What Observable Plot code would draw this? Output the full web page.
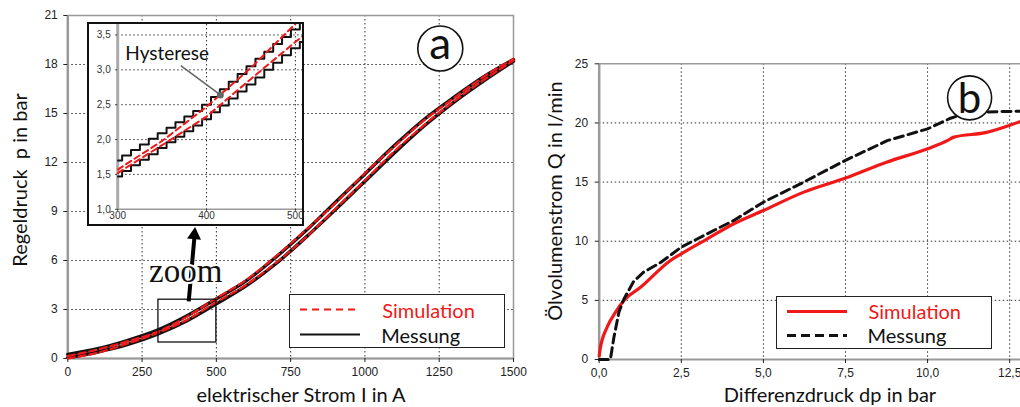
<!DOCTYPE html>
<html><head><meta charset="utf-8">
<script src="https://cdn.jsdelivr.net/npm/d3@7"></script>
<script src="https://cdn.jsdelivr.net/npm/@observablehq/plot@0.6"></script>
<style>
body{margin:0;background:#fff;}
#wrap{position:relative;width:1020px;height:407px;overflow:hidden;background:#fff;font-family:Lato,"Open Sans",sans-serif;}
#wrap svg{position:absolute;overflow:visible;}
.ttl{position:absolute;font-family:Lato,"Open Sans",sans-serif;font-size:20px;color:#111;white-space:pre;}
.rot{transform:translate(-50%,-50%) rotate(-90deg);}
.hx{transform:translate(-50%,-50%);}
.leg{position:absolute;border:1.5px solid #222;background:#fff;box-sizing:border-box;}
.leg span{position:absolute;font-size:20px;line-height:20px;transform:translateY(-50%);white-space:pre;}
.leg svg{position:absolute;left:0;top:0;}
</style></head>
<body><div id="wrap"></div>
<script>
// ---------- Panel a: Regeldruck vs. Strom ----------
const I_main   = [0,100,200,300,400,500,600,700,800,900,1000,1100,1200,1300,1400,1500];
const pMessAuf = [0.25,0.6,1.1,1.72,2.6,3.65,4.75,6.2,7.8,9.55,11.3,13.05,14.65,16.0,17.25,18.3];
const pMessAb  = [0.05,0.4,0.85,1.48,2.3,3.35,4.45,5.8,7.4,9.1,10.85,12.6,14.25,15.7,17.0,18.2];
const pSimAuf  = [0.15,0.55,1.05,1.62,2.55,3.7,4.8,6.25,7.85,9.5,11.35,13.0,14.6,15.95,17.25,18.35];
const pSimAb   = [0.0,0.35,0.9,1.55,2.35,3.45,4.5,5.85,7.4,9.15,10.9,12.7,14.3,15.75,17.05,18.25];
const xTicksA = [0,250,500,750,1000,1250,1500];
const yTicksA = [0,3,6,9,12,15,18,21];

// ---------- Inset (Zoom 300..500 A) ----------
const I_inset = [300,310,320,330,340,350,360,370,380,390,400,410,420,430,440,450,460,470,480,490,500,510];
const pInsAuf = [1.70,1.77,1.85,1.93,2.01,2.09,2.17,2.25,2.33,2.41,2.50,2.61,2.72,2.83,2.94,3.05,3.16,3.26,3.37,3.47,3.58,3.68];
const pInsAb  = [1.47,1.55,1.63,1.71,1.79,1.88,1.96,2.04,2.12,2.20,2.29,2.39,2.49,2.59,2.69,2.79,2.89,3.00,3.10,3.21,3.31,3.40];
const I_insSim = [300,350,400,450,500,510];
const pInsSimAuf = [1.57,1.98,2.47,3.03,3.66,3.76];
const pInsSimAb  = [1.52,1.92,2.33,2.87,3.40,3.50];
const xTicksIns = [300,400,500];
const yTicksIns = [1.0,1.5,2.0,2.5,3.0,3.5];

// ---------- Panel b: Ölvolumenstrom vs. Differenzdruck ----------
const dpSim = [0,0.02,0.24,0.5,0.75,1.26,2.17,2.5,3.29,4.1,5.0,6.23,7.5,8.77,10.0,10.6,10.8,11.8,12.5,12.9];
const QSim  = [0.3,0.76,2.73,4.0,4.99,6.1,8.37,8.94,10.2,11.48,12.6,14.15,15.34,16.7,17.82,18.5,18.8,19.2,19.8,20.2];
const dpMess = [0,0.34,0.45,0.6,0.75,1.05,1.36,1.87,2.5,3.29,4.1,5.0,6.23,7.5,8.77,10.0,10.7,11.3,12.9];
const QMess  = [0,0,1.9,4.0,5.1,6.6,7.4,8.2,9.5,10.63,11.76,13.3,15.0,16.84,18.5,19.5,20.4,20.9,21.0];
const xTicksB = [0,2.5,5,7.5,10,12.5];
const yTicksB = [0,5,10,15,20,25];

const pts = (xs, ys) => xs.map((x,i) => ({x, y: ys[i]}));
const comma = d => d.toFixed(1).replace(".", ",");
const plain = d => String(d);
const RED = "#f01818";
const grid = {stroke:"#333", strokeOpacity:1, strokeDasharray:"1.5,2.5", strokeWidth:1};
const tickFont = "Liberation Sans, Arial, sans-serif";

const wrap = document.getElementById("wrap");

// Panel a
const plotA = Plot.plot({
  width:520, height:407, marginTop:15, marginRight:7, marginBottom:49, marginLeft:67.3,
  style:{fontFamily:tickFont, fontSize:"12px", background:"transparent", color:"#222"},
  x:{domain:[0,1500]}, y:{domain:[0,21]},
  marks:[
    Plot.gridX(xTicksA.slice(1,-1), grid),
    Plot.gridY(yTicksA.slice(1,-1), grid),
    Plot.frame({stroke:"#999", strokeWidth:1.5}),
    Plot.ruleX([0], {stroke:"#999", strokeWidth:2.5}),
    Plot.ruleY([0], {stroke:"#999", strokeWidth:2}),
    Plot.axisX({ticks:xTicksA, tickFormat:plain, tickSize:4, tickPadding:5, label:null}),
    Plot.axisY({ticks:yTicksA, tickFormat:plain, tickSize:4, tickPadding:6, label:null}),
    Plot.line(pts(I_main,pMessAuf), {x:"x", y:"y", stroke:"#111", strokeWidth:3.4, curve:"monotone-x"}),
    Plot.line(pts(I_main,pMessAb), {x:"x", y:"y", stroke:"#111", strokeWidth:3.4, curve:"monotone-x"}),
    Plot.line(pts(I_main,pSimAuf), {x:"x", y:"y", stroke:RED, strokeWidth:2.2, strokeDasharray:"7,4", curve:"monotone-x"}),
    Plot.line(pts(I_main,pSimAb), {x:"x", y:"y", stroke:RED, strokeWidth:2.2, strokeDasharray:"7,4", curve:"monotone-x"}),
    Plot.rect([{x1:305,x2:500,y1:0.98,y2:3.6}], {x1:"x1",x2:"x2",y1:"y1",y2:"y2", fill:"none", stroke:"#111", strokeWidth:1.3}),
    Plot.link([{x1:407,y1:3.5,x2:426,y2:7.4}], {x1:"x1",y1:"y1",x2:"x2",y2:"y2", stroke:"#000", strokeWidth:4}),
    Plot.dot([{x:426,y:7.56}], {x:"x", y:"y", symbol:"triangle", r:5.2, fill:"#000", stroke:"none", rotate:5}),
    Plot.text(["zoom"], {x:()=>397, y:()=>5.3, fontSize:33, fontFamily:"Liberation Serif, serif", fill:"#111", stroke:"white", strokeWidth:4, paintOrder:"stroke"}),
    Plot.dot([{x:1253.6,y:18.98}], {x:"x", y:"y", r:22.5, fill:"white", stroke:"#111", strokeWidth:1.6}),
    Plot.text(["a"], {x:()=>1253.6, y:()=>19.2, fontSize:44, fontFamily:"Lato, sans-serif", fill:"#111"})
  ]
});
plotA.style.left = "0px"; plotA.style.top = "0px";
wrap.appendChild(plotA);

// Panel b
const plotB = Plot.plot({
  width:500, height:407, marginTop:63.3, marginRight:0, marginBottom:48, marginLeft:78.7,
  style:{fontFamily:tickFont, fontSize:"12px", background:"transparent", color:"#222"},
  x:{domain:[0,12.83]}, y:{domain:[0,25]},
  marks:[
    Plot.gridX(xTicksB.slice(1), grid),
    Plot.gridY(yTicksB.slice(1,-1), grid),
    Plot.ruleY([25], {stroke:"#999", strokeWidth:1.5}),
    Plot.ruleX([0], {stroke:"#999", strokeWidth:2.5}),
    Plot.ruleY([0], {stroke:"#999", strokeWidth:2}),
    Plot.axisX({ticks:xTicksB, tickFormat:comma, tickSize:4, tickPadding:5, label:null}),
    Plot.axisY({ticks:yTicksB, tickFormat:plain, tickSize:4, tickPadding:7, label:null}),
    Plot.line(pts(dpSim,QSim), {x:"x", y:"y", stroke:RED, strokeWidth:3.2, curve:"monotone-x"}),
    Plot.line(pts(dpMess,QMess), {x:"x", y:"y", stroke:"#111", strokeWidth:3, strokeDasharray:"9,5", curve:"linear"}),
    Plot.dot([{x:11.28,y:22.12}], {x:"x", y:"y", r:22, fill:"white", stroke:"#111", strokeWidth:1.6}),
    Plot.text(["b"], {x:()=>11.28, y:()=>22.0, fontSize:42, fontFamily:"Lato, sans-serif", fill:"#111"})
  ]
});
plotB.style.left = "520px"; plotB.style.top = "0px";
wrap.appendChild(plotB);

// Inset
const inset = Plot.plot({
  width:213, height:200, marginTop:0, marginRight:0, marginBottom:15.2, marginLeft:28.2,
  style:{fontFamily:tickFont, fontSize:"10px", background:"white", color:"#333"},
  x:{domain:[300,508]}, y:{domain:[1,3.65]},
  marks:[
    Plot.gridX(xTicksIns.slice(1), grid),
    Plot.gridY(yTicksIns.slice(1), grid),
    Plot.ruleX([300], {stroke:"#aaa", strokeWidth:3}),
    Plot.ruleY([1], {stroke:"#999", strokeWidth:1.5}),
    Plot.axisX({ticks:xTicksIns, tickFormat:plain, tickSize:2, tickPadding:1, label:null}),
    Plot.axisY({ticks:yTicksIns, tickFormat:comma, tickSize:2, tickPadding:5, label:null}),
    Plot.line(pts(I_inset,pInsAuf), {x:"x", y:"y", stroke:"#111", strokeWidth:2, curve:"step", clip:true}),
    Plot.line(pts(I_inset,pInsAb), {x:"x", y:"y", stroke:"#111", strokeWidth:2, curve:"step", clip:true}),
    Plot.line(pts(I_insSim,pInsSimAuf), {x:"x", y:"y", stroke:RED, strokeWidth:2, strokeDasharray:"6,4", clip:true}),
    Plot.line(pts(I_insSim,pInsSimAb), {x:"x", y:"y", stroke:RED, strokeWidth:2, strokeDasharray:"6,4", clip:true}),
    Plot.link([{x1:371,y1:3.06,x2:415.5,y2:2.64}], {x1:"x1",y1:"y1",x2:"x2",y2:"y2", stroke:"#666", strokeWidth:1.6}),
    Plot.dot([{x:415.5,y:2.64}], {x:"x", y:"y", r:3.5, fill:"#666"}),
    Plot.text(["Hysterese"], {x:()=>308.6, y:()=>3.23, textAnchor:"start", fontSize:19, fontFamily:"Lato, sans-serif", fill:"#111"})
  ]
});
inset.style.left = "86.5px"; inset.style.top = "21.5px"; inset.style.border = "2px solid #111";
wrap.appendChild(inset);

// Axis titles
function addTitle(txt, x, y, rot){
  const d = document.createElement("div");
  d.className = "ttl " + (rot ? "rot" : "hx");
  d.textContent = txt; d.style.left = x+"px"; d.style.top = y+"px";
  wrap.appendChild(d);
}
addTitle("elektrischer Strom I in A", 301, 394, false);
addTitle("Regeldruck  p in bar", 19, 180, true);
addTitle("Differenzdruck dp in bar", 830, 394, false);
addTitle("Ölvolumenstrom Q in l/min", 554, 201, true);

// Legends
function addLegend(x, y, w, h, items){
  const d = document.createElement("div");
  d.className = "leg";
  d.style.left = x+"px"; d.style.top = y+"px"; d.style.width = w+"px"; d.style.height = h+"px";
  const ns = "http://www.w3.org/2000/svg";
  const s = document.createElementNS(ns, "svg");
  s.setAttribute("width", w); s.setAttribute("height", h);
  for (const it of items){
    const l = document.createElementNS(ns, "line");
    l.setAttribute("x1", it.lx1); l.setAttribute("x2", it.lx2);
    l.setAttribute("y1", it.ly); l.setAttribute("y2", it.ly);
    l.setAttribute("stroke", it.color); l.setAttribute("stroke-width", it.sw);
    if (it.dash) l.setAttribute("stroke-dasharray", it.dash);
    s.appendChild(l);
    const t = document.createElement("span");
    t.textContent = it.label; t.style.left = it.tx+"px"; t.style.top = it.ly+"px"; t.style.color = it.color;
    d.appendChild(t);
  }
  d.appendChild(s);
  wrap.appendChild(d);
}
addLegend(289.3, 294, 216, 53.5, [
  {label:"Simulation", color:RED, lx1:10, lx2:70, ly:14.5, sw:2.2, dash:"7,5", tx:92},
  {label:"Messung", color:"#111", lx1:10, lx2:70, ly:39.5, sw:2.2, tx:91}
]);
addLegend(776, 295.7, 215.5, 53.5, [
  {label:"Simulation", color:RED, lx1:10, lx2:70, ly:14.5, sw:3, tx:91.5},
  {label:"Messung", color:"#111", lx1:10, lx2:70, ly:38.5, sw:3, dash:"9,5", tx:90.5}
]);
</script></body></html>
